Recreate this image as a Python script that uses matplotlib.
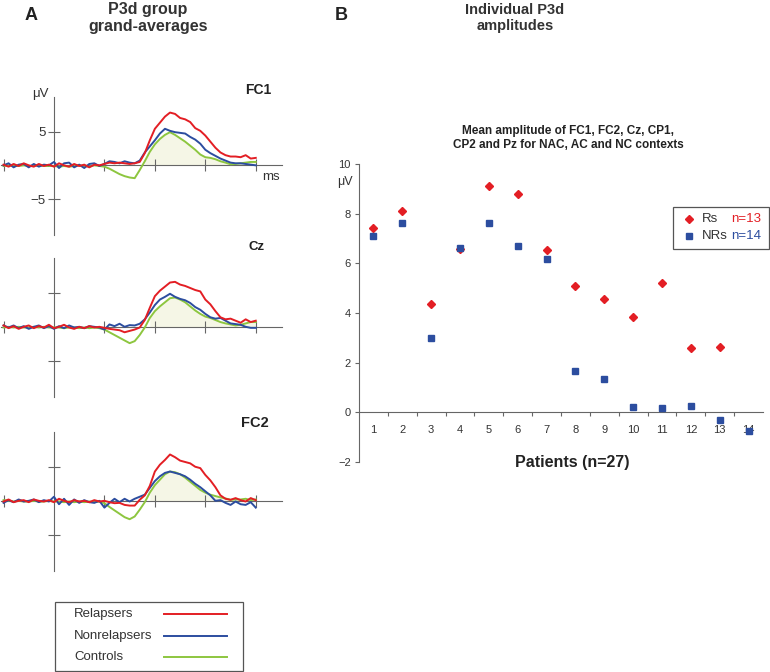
import numpy as np
import matplotlib
matplotlib.use("Agg")
import matplotlib.pyplot as plt
from matplotlib.lines import Line2D
from matplotlib.patches import Rectangle

plt.rcParams['font.family'] = ['Liberation Sans', 'DejaVu Sans']

# panel A: grand averages in uV, one value every 10 ms from -100 to 400 ms
times = np.arange(-100, 401, 10)

fc1_rel = [0.1, -0.2, 0.2, -0.1, 0.3, 0.0, -0.2, 0.2, -0.1, 0.1, -0.2, 0.3, 0.0, -0.2, 0.2, -0.1, 0.1, -0.3, 0.1, 0.0,
           0.2, 0.4, 0.3, 0.4, 0.3, 0.2, 0.3, 0.5, 1.8, 3.7, 5.4, 6.3, 7.2, 7.8, 7.6, 7.0, 6.8, 6.4, 5.5, 5.1,
           4.4, 3.5, 2.6, 1.9, 1.5, 1.3, 1.3, 1.2, 1.5, 1.0, 1.1]
fc1_non = [0.0, 0.3, -0.3, 0.1, 0.2, -0.3, 0.2, -0.2, 0.1, 0.0, 0.5, -0.4, 0.3, 0.4, -0.3, 0.1, -0.4, 0.2, 0.3, -0.1,
           0.2, 0.6, 0.5, 0.3, 0.6, 0.4, 0.3, 0.7, 1.9, 2.8, 3.7, 4.7, 5.4, 5.1, 4.9, 4.8, 4.7, 4.2, 3.8, 3.2,
           2.3, 1.8, 1.4, 1.0, 0.7, 0.4, 0.3, 0.3, 0.2, 0.1, 0.0]
fc1_con = [-0.1, 0.0, -0.1, -0.1, 0.0, -0.1, -0.1, 0.0, -0.1, -0.1, -0.1, -0.2, -0.1, -0.2, -0.1, 0.0, -0.1, -0.2, 0.0, -0.1,
           -0.2, -0.5, -0.9, -1.3, -1.6, -1.8, -1.9, -0.7, 0.6, 2.0, 3.1, 3.9, 4.5, 4.9, 4.5, 4.0, 3.5, 2.9, 2.3, 1.6,
           1.2, 1.1, 0.9, 0.6, 0.4, 0.15, 0.2, 0.3, 0.4, 0.5, 0.5]

cz_rel = [0.2, -0.2, 0.1, -0.3, 0.0, 0.2, -0.2, 0.1, -0.1, 0.3, -0.2, 0.0, 0.3, -0.1, -0.3, 0.0, -0.2, 0.1, -0.1, 0.0,
          -0.15, -0.3, -0.4, -0.5, -0.8, -0.6, -0.4, -0.1, 1.0, 2.8, 4.5, 5.3, 5.9, 6.5, 6.6, 6.2, 6.0, 5.7, 5.4, 5.2,
          4.0, 3.3, 2.3, 1.4, 1.1, 1.2, 0.9, 0.6, 1.1, 0.7, 0.9]
cz_non = [0.2, -0.1, 0.2, -0.2, 0.1, -0.3, 0.0, 0.2, -0.2, 0.1, -0.3, 0.1, -0.2, 0.2, -0.1, 0.0, -0.2, 0.1, 0.0, -0.1,
          -0.4, 0.35, 0.1, 0.45, 0.0, 0.25, 0.2, 0.45, 1.1, 2.1, 3.2, 4.0, 4.4, 4.85, 4.4, 4.1, 3.9, 3.5, 2.9, 2.5,
          1.9, 1.4, 1.2, 1.3, 0.9, 0.5, 0.4, 0.3, 0.0, -0.15, -0.15]
cz_con = [-0.1, 0.0, -0.1, 0.0, -0.1, -0.1, 0.0, -0.1, 0.0, -0.1, -0.1, -0.1, -0.2, -0.1, -0.1, -0.2, -0.1, -0.2, -0.1, -0.2,
          -0.4, -0.8, -1.2, -1.6, -2.0, -2.4, -2.1, -1.2, -0.1, 1.3, 2.3, 3.0, 3.6, 4.2, 4.3, 4.0, 3.6, 3.0, 2.4, 1.9,
          1.5, 1.3, 1.0, 0.7, 0.5, 0.35, 0.2, 0.3, 0.5, 0.7, 0.7]

fc2_rel = [-0.1, 0.2, -0.2, 0.0, 0.1, -0.2, 0.2, 0.0, -0.1, 0.1, -0.2, 0.3, 0.0, -0.2, 0.1, -0.1, 0.0, -0.2, 0.1, -0.1,
           0.0, -0.2, -0.35, -0.3, -0.6, -0.7, -0.7, 0.15, 0.8, 2.2, 4.3, 5.3, 6.0, 6.8, 6.4, 5.9, 5.7, 5.5, 5.0, 4.8,
           3.8, 3.0, 2.0, 0.8, 0.3, 0.15, 0.4, 0.1, -0.1, 0.4, 0.1]
fc2_non = [-0.3, 0.1, -0.2, 0.2, -0.1, 0.0, 0.2, -0.2, 0.1, -0.1, 0.6, -0.5, 0.3, -0.6, 0.2, -0.3, 0.1, -0.2, -0.3, 0.0,
           -1.0, -0.3, 0.3, -0.2, 0.3, -0.1, 0.3, 0.6, 0.9, 1.9, 2.9, 3.6, 4.1, 4.3, 4.1, 3.9, 3.6, 3.1, 2.5, 2.0,
           1.4, 0.8, 0.0, 0.1, -0.3, -0.6, -0.1, -0.5, -0.6, -0.2, -1.0]
fc2_con = [0.1, 0.0, -0.1, 0.0, -0.1, -0.1, 0.0, -0.1, -0.1, 0.0, -0.1, -0.1, -0.2, -0.1, -0.2, -0.1, -0.2, -0.1, -0.2, -0.1,
           -0.35, -0.9, -1.4, -1.9, -2.4, -2.7, -2.3, -1.3, -0.2, 1.2, 2.3, 3.1, 3.9, 4.3, 4.2, 3.9, 3.4, 2.8, 2.2, 1.6,
           1.2, 0.9, 0.7, 0.5, 0.35, 0.15, 0.2, 0.2, 0.3, 0.1, 0.2]

# panel B: individual P3d amplitudes (uV)
rs_patients = [1, 2, 3, 4, 5, 6, 7, 8, 9, 10, 11, 12, 13]
rs_amp = [7.43, 8.10, 4.36, 6.56, 9.11, 8.80, 6.55, 5.08, 4.55, 3.82, 5.22, 2.59, 2.63]
nrs_patients = [1, 2, 3, 4, 5, 6, 7, 8, 9, 10, 11, 12, 13, 14]
nrs_amp = [7.11, 7.62, 3.00, 6.63, 7.62, 6.71, 6.17, 1.68, 1.33, 0.21, 0.16, 0.24, -0.32, -0.75]

RED = '#e31e24'
BLUE = '#2c4d9f'
GREEN = '#8dc63f'
AXC = '#666666'
TXT = '#333333'

W, H = 770, 672
fig = plt.figure(figsize=(7.7, 6.72), dpi=100)


def fx(px):
    return px / W


def fy(py):
    return 1 - py / H


def erp_axes(top, bottom, rel, non, con, name, name_xy, name_size, show_labels):
    ax = fig.add_axes([fx(1.5), fy(bottom), fx(280.5), (bottom - top) / H])
    ax.set_xlim(-104, 452)
    ax.set_ylim(-10.3, 10.1)
    ax.patch.set_visible(False)
    for s in ['top', 'right']:
        ax.spines[s].set_visible(False)
    ax.spines['left'].set_position(('data', 0))
    ax.spines['bottom'].set_position(('data', 0))
    for s in ['left', 'bottom']:
        ax.spines[s].set_color(AXC)
        ax.spines[s].set_linewidth(0.8)
    ax.set_xticks([-100, 100, 200, 300, 400])
    ax.set_xticklabels([])
    ax.set_yticks([-5, 5])
    if show_labels:
        ax.set_yticklabels(['\u22125', '5'])
    else:
        ax.set_yticklabels([])
    ax.tick_params(axis='both', direction='inout', length=8, width=0.8, color=AXC,
                   labelsize=9.5, labelcolor=TXT, pad=2)
    con_arr = np.array(con)
    ax.fill_between(times, 0, con_arr, where=(times >= 170) & (con_arr > 0),
                    color='#f5f6e6', lw=0, zorder=1)
    ax.plot(times, con, color=GREEN, lw=1.4, zorder=3)
    ax.plot(times, non, color=BLUE, lw=1.4, zorder=4)
    ax.plot(times, rel, color=RED, lw=1.4, zorder=5)
    fig.text(fx(name_xy[0]), fy(name_xy[1]), name, ha='center', va='center',
             fontsize=name_size, fontweight='bold', color='#222222')
    return ax


erp_axes(97, 235, fc1_rel, fc1_non, fc1_con, 'FC1', (258, 90), 10, True)
erp_axes(258, 397, cz_rel, cz_non, cz_con, 'Cz', (257, 247), 9.5, False)
erp_axes(432, 571, fc2_rel, fc2_non, fc2_con, 'FC2', (255, 423), 10.5, False)

fig.text(fx(40), fy(94), '\u03bcV', ha='center', va='center', fontsize=9.5, color=TXT)
fig.text(fx(262), fy(177), 'ms', ha='left', va='center', fontsize=9.5, color=TXT)

# titles
fig.text(fx(31), fy(15), 'A', ha='center', va='center', fontsize=13, fontweight='bold', color='#222222')
fig.text(fx(148), fy(18), 'P3d group\ngrand-averages', ha='center', va='center', fontsize=11.5,
         fontweight='bold', color='#333333', linespacing=1.15)
fig.text(fx(341), fy(15), 'B', ha='center', va='center', fontsize=13, fontweight='bold', color='#222222')
fig.text(fx(515), fy(18), 'Individual P3d\namplitudes', ha='center', va='center', fontsize=10.5,
         fontweight='bold', color='#333333', linespacing=1.25)

# legend panel A
fig.patches.append(Rectangle((fx(55), fy(671)), fx(188), (671 - 602) / H, transform=fig.transFigure,
                             fill=False, edgecolor='#555555', lw=0.9))
for lab, col, yy in [('Relapsers', RED, 614), ('Nonrelapsers', BLUE, 636), ('Controls', GREEN, 657)]:
    fig.text(fx(74), fy(yy), lab, ha='left', va='center', fontsize=9.5, color=TXT)
    fig.lines.append(Line2D([fx(164), fx(227)], [fy(yy), fy(yy)], transform=fig.transFigure,
                            color=col, lw=1.4))

# panel B scatter
ax = fig.add_axes([fx(359), fy(462), fx(404), 298 / H])
ax.set_xlim(0.5, 14.5)
ax.set_ylim(-2, 10)
ax.patch.set_visible(False)
for s in ['top', 'right']:
    ax.spines[s].set_visible(False)
ax.spines['bottom'].set_position(('data', 0))
for s in ['left', 'bottom']:
    ax.spines[s].set_color(AXC)
    ax.spines[s].set_linewidth(0.8)
ax.set_yticks([-2, 0, 2, 4, 6, 8, 10])
ax.set_yticklabels(['\u22122', '0', '2', '4', '6', '8', '10'])
ax.set_xticks(range(1, 15))
ax.set_xticks(np.arange(1.5, 14, 1), minor=True)
ax.tick_params(axis='y', direction='out', length=3, width=0.8, color=AXC,
               labelsize=8, labelcolor=TXT, pad=3)
ax.tick_params(axis='x', which='major', length=0, labelsize=8, labelcolor=TXT, pad=9)
ax.tick_params(axis='x', which='minor', direction='out', length=3, width=0.8, color=AXC)
ax.plot(rs_patients, rs_amp, ls='none', marker='D', ms=4.3, color=RED, zorder=3, clip_on=False)
ax.plot(nrs_patients, nrs_amp, ls='none', marker='s', ms=4.2, color=BLUE, zorder=4, clip_on=False)

fig.text(fx(345), fy(182), '\u03bcV', ha='center', va='center', fontsize=9, color=TXT)
fig.text(fx(568), fy(138), 'Mean amplitude of FC1, FC2, Cz, CP1,\nCP2 and Pz for NAC, AC and NC contexts',
         ha='center', va='center', fontsize=8.5, fontweight='bold', color='#222222', linespacing=1.3)
fig.text(fx(572), fy(462), 'Patients (n=27)', ha='center', va='center', fontsize=11.5,
         fontweight='bold', color='#222222')

# legend panel B
fig.patches.append(Rectangle((fx(673), fy(249)), fx(96), (249 - 207) / H, transform=fig.transFigure,
                             fill=False, edgecolor='#555555', lw=0.9))
fig.lines.append(Line2D([fx(689)], [fy(219)], transform=fig.transFigure, ls='none',
                        marker='D', ms=4.3, color=RED))
fig.lines.append(Line2D([fx(689)], [fy(236)], transform=fig.transFigure, ls='none',
                        marker='s', ms=4.2, color=BLUE))
fig.text(fx(702), fy(219), 'Rs', ha='left', va='center', fontsize=9.5, color=TXT)
fig.text(fx(731), fy(219), 'n=13', ha='left', va='center', fontsize=9.5, color=RED)
fig.text(fx(702), fy(236), 'NRs', ha='left', va='center', fontsize=9.5, color=TXT)
fig.text(fx(731), fy(236), 'n=14', ha='left', va='center', fontsize=9.5, color=BLUE)

fig.savefig('out.png', dpi=100)
